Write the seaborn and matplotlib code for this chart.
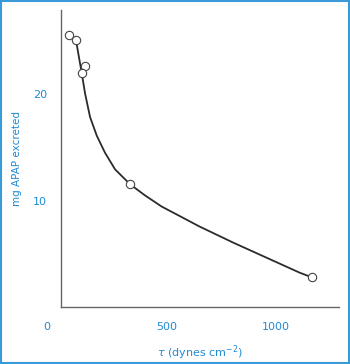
import matplotlib
matplotlib.use("Agg")
import matplotlib.pyplot as plt
import seaborn as sns
import pandas as pd
from matplotlib.patches import Rectangle

# Data
shear_stress = [51, 81, 121, 109, 331, 1169]
apap_excreted = [25.6, 25.1, 22.6, 22.0, 11.6, 2.8]

curve_x = [81, 108, 123, 146, 177, 215, 261, 330, 399, 476, 560, 648, 805, 959, 1112, 1169]
curve_y = [25.1, 21.95, 20.07, 17.86, 16.1, 14.5, 12.95, 11.55, 10.5, 9.45, 8.55, 7.6,
           6.07, 4.65, 3.24, 2.8]

x_ticks = [500, 1000]
y_ticks = [10, 20]

BLUE = "#1f8bd2"
GRAY = "#666666"

sns.set_style("white")
plt.rcParams["font.family"] = ["DejaVu Sans"]

fig = plt.figure(figsize=(3.5, 3.64), dpi=100)
W, H = 350, 364
ax = fig.add_axes([60.5 / W, 1 - 307.3 / H, (339 - 60.5) / W, (307.3 - 10) / H])

pts = pd.DataFrame({"x": shear_stress, "y": apap_excreted})
cur = pd.DataFrame({"x": curve_x, "y": curve_y})

sns.lineplot(data=cur, x="x", y="y", sort=False, color="#2b2b2b", linewidth=1.3, ax=ax,
             zorder=2, solid_joinstyle="round", solid_capstyle="round")
sns.scatterplot(data=pts, x="x", y="y", s=36, facecolor="white", edgecolor="#444444",
                linewidth=0.8, ax=ax, zorder=3)

ax.set_xlim(10, 1292)
ax.set_ylim(0, 27.9)
ax.set_xticks(x_ticks)
ax.set_yticks(y_ticks)
ax.set_xticklabels([str(v) for v in x_ticks])
ax.set_yticklabels([str(v) for v in y_ticks])

for side in ["top", "right"]:
    ax.spines[side].set_visible(False)
for side in ["left", "bottom"]:
    ax.spines[side].set_color(GRAY)
    ax.spines[side].set_linewidth(1.0)

ax.tick_params(axis="both", direction="out", length=6, width=1.0, color="#888888",
               labelcolor=BLUE, labelsize=8)
ax.tick_params(axis="x", pad=4.5)
ax.tick_params(axis="y", pad=3.5)

ax.set_xlabel(r"$\tau$ (dynes cm$^{-2}$)", color=BLUE, fontsize=8, labelpad=8)
ax.set_ylabel("mg APAP excreted", color=BLUE, fontsize=7.5, labelpad=8)

fig.text(46.7 / W, 1 - 327 / H, "0", color=BLUE, fontsize=8, ha="center", va="center")

fig.patches.append(Rectangle((0.002, 0.002), 0.996, 0.996, transform=fig.transFigure,
                             fill=False, edgecolor="#3a9ad8", linewidth=1.5))

fig.savefig("out.png", dpi=100)
